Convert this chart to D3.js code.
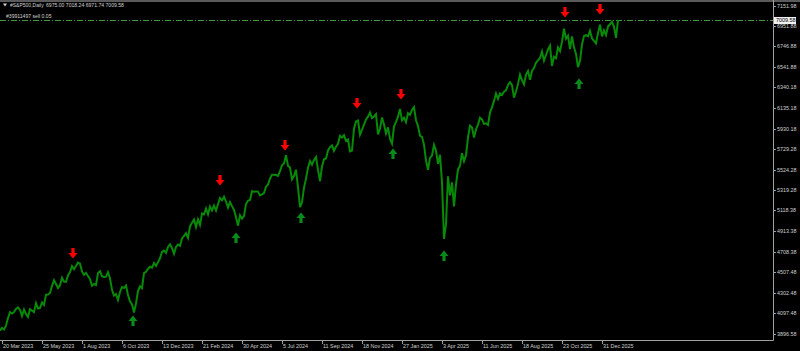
<!DOCTYPE html>
<html><head><meta charset="utf-8">
<script src="https://cdn.jsdelivr.net/npm/d3@7"></script>
<style>
html,body{margin:0;padding:0;background:#000;}
svg{display:block;}
text{font-family:"Liberation Sans",Arial,sans-serif;}
</style></head>
<body>
<script>
// ---- data ----
const symbolTitle = "#S&P500,Daily";
const ohlcText = "6975.00 7018.24 6971.74 7009.58";
const orderText = "#39911497 sell 0.05";
const orderPrice = 7009.58;
const lastPrice = 7009.58;

const closes = [
3925,3952,3937,3975,4050,4109,4095,4110,4140,4155,4130,4071,4135,4090,4062,4138,4124,4109,4198,4145,4151,
4205,4180,4282,4283,4299,4369,4425,4388,4348,4376,4450,4411,4409,4472,4505,4565,4536,4567,4600,4589,
4513,4478,4499,4468,4437,4370,4388,4376,4497,4515,4465,4457,4461,4505,4443,4330,4273,4288,4229,4309,
4358,4349,4373,4278,4217,4186,4105,4194,4318,4365,4347,4495,4508,4538,4559,4550,4595,4567,4604,4643,
4707,4719,4698,4755,4781,4743,4688,4756,4780,4766,4840,4865,4891,4846,4959,4995,5027,4953,5030,4975,
5087,5078,5137,5079,5157,5118,5165,5117,5179,5241,5218,5254,5205,5147,5202,5161,5123,5051,4967,5070,
5036,5064,5181,5214,5221,5308,5303,5307,5305,5267,5278,5291,5352,5375,5433,5473,5473,5469,5460,5509,
5567,5585,5667,5560,5544,5427,5459,5522,5346,5150,5199,5344,5434,5543,5608,5571,5617,5648,5520,5408,
5554,5626,5634,5713,5745,5762,5709,5751,5780,5859,5842,5864,5809,5823,5705,5712,5929,6001,6010,5870,
5917,5969,6021,6049,6090,6034,6051,6074,5872,5931,6040,5971,5882,5942,5827,5780,5950,5997,6049,6125,
6012,6039,5994,6083,6066,6115,6144,6013,5955,5861,5849,5770,5614,5522,5639,5663,5768,5712,5581,5671,
5396,4835,4982,5457,5268,5397,5158,5376,5525,5561,5686,5607,5664,5844,5958,5940,5842,5922,5970,6038,
6022,5977,5982,5967,6092,6141,6205,6279,6226,6280,6264,6297,6309,6363,6390,6362,6238,6299,6374,6466,
6411,6370,6467,6502,6416,6502,6532,6584,6607,6631,6694,6605,6661,6716,6753,6553,6644,6629,6735,6699,
6792,6921,6822,6852,6720,6846,6737,6672,6540,6603,6766,6849,6857,6846,6901,6827,6800,6775,6878,6962,
6845,6905,6858,6944,6966,6990,6940,6830,7009.58
];

const yTickValues = [7151.98,6951.88,6746.88,6541.88,6340.18,6135.18,5930.18,5729.28,5524.28,5319.28,5118.38,4913.38,4708.38,4507.48,4302.48,4097.48,3896.58];
const yTickLabels = ["7151.98","6951.88","6746.88","6541.88","6340.18","6135.18","5930.18","5729.28","5524.28","5319.28","5118.38","4913.38","4708.38","4507.48","4302.48","4097.48","3896.58"];

const xTickLabels = ["20 Mar 2023","25 May 2023","1 Aug 2023","6 Oct 2023","13 Dec 2023","21 Feb 2024","30 Apr 2024","5 Jul 2024","11 Sep 2024","18 Nov 2024","27 Jan 2025","3 Apr 2025","11 Jun 2025","18 Aug 2025","23 Oct 2025","31 Dec 2025"];
const xTickIndex = [0.85,20.85,40.85,60.85,80.85,100.85,120.85,140.85,160.85,180.85,200.85,220.85,240.85,260.85,280.85,300.85];

const downArrowIndex = [36.5,110,142.5,178.5,200.5,282.5,300];
const downArrowPrice = [4690,5415,5762,6179,6268,7083,7112];
const upArrowIndex = [66.5,118,150.5,196.5,222,289.5];
const upArrowPrice = [4026,4849,5048,5683,4671,6378];

// ---- layout ----
const W = 800, H = 351;
const plotL = 0, plotR = 773, plotT = 2, plotB = 340;
const FS = 5.4;

const svg = d3.select("body").append("svg").attr("width", W).attr("height", H);
svg.append("rect").attr("width", W).attr("height", H).attr("fill", "#000");

const x = d3.scaleLinear().domain([0, closes.length - 1]).range([0, 618]);
const y = d3.scaleLinear().domain([3896.58, 7151.98]).range([333.5, 5.5]);

svg.append("clipPath").attr("id", "plot").append("rect")
  .attr("x", plotL).attr("y", plotT).attr("width", plotR - plotL).attr("height", plotB - plotT);

// top border
svg.append("rect").attr("x", 0).attr("y", 0).attr("width", W).attr("height", 2).attr("fill", "#5a5a5a");

const g = svg.append("g").attr("clip-path", "url(#plot)");

// order line
const oy = Math.round(y(orderPrice)) + 0.5;
g.append("line").attr("x1", plotL).attr("x2", plotR)
  .attr("y1", oy).attr("y2", oy)
  .attr("stroke", "#3f9a3f").attr("stroke-width", 1).attr("stroke-dasharray", "6,2,1,2");

// price line
g.append("path").datum(closes)
  .attr("fill", "none").attr("stroke", "#078a07").attr("stroke-width", 2).attr("stroke-linejoin", "miter")
  .attr("d", d3.line().x((d, i) => x(i)).y(d => y(d)));

// arrows
function downArrow(cx, cy) {
  return `M${cx-1.6},${cy-5.5} L${cx+1.6},${cy-5.5} L${cx+1.6},${cy-0.5} L${cx+4.5},${cy-0.5} L${cx},${cy+5} L${cx-4.5},${cy-0.5} L${cx-1.6},${cy-0.5} Z`;
}
function upArrow(cx, cy) {
  return `M${cx-1.6},${cy+5.5} L${cx+1.6},${cy+5.5} L${cx+1.6},${cy+0.5} L${cx+4.5},${cy+0.5} L${cx},${cy-5} L${cx-4.5},${cy+0.5} L${cx-1.6},${cy+0.5} Z`;
}
g.selectAll("path.dn").data(downArrowIndex).join("path").attr("class", "dn")
  .attr("d", (d, k) => downArrow(x(d), y(downArrowPrice[k]))).attr("fill", "#ff0000");
g.selectAll("path.up").data(upArrowIndex).join("path").attr("class", "up")
  .attr("d", (d, k) => upArrow(x(d), y(upArrowPrice[k]))).attr("fill", "#0a8a1a");

// axes lines
svg.append("line").attr("x1", plotR + 0.5).attr("x2", plotR + 0.5).attr("y1", 0).attr("y2", plotB + 0.5)
  .attr("stroke", "#a0a0a0");
svg.append("line").attr("x1", 0).attr("x2", plotR + 0.5).attr("y1", plotB + 0.5).attr("y2", plotB + 0.5)
  .attr("stroke", "#a0a0a0");

// y ticks
const yt = svg.append("g");
yTickValues.forEach((v, k) => {
  const yy = Math.round(y(v)) + 0.5;
  yt.append("line").attr("x1", plotR).attr("x2", plotR + 3).attr("y1", yy).attr("y2", yy).attr("stroke", "#a0a0a0");
  yt.append("text").attr("x", plotR + 4).attr("y", yy).attr("dy", "0.35em")
    .attr("font-size", FS).attr("fill", "#d0d0d0").text(yTickLabels[k]);
});

// last price label
const ly = Math.round(y(lastPrice)) + 0.5;
svg.append("rect").attr("x", plotR + 1).attr("y", ly - 3.5).attr("width", 22).attr("height", 7).attr("fill", "#f0f0f0");
svg.append("text").attr("x", plotR + 3).attr("y", ly).attr("dy", "0.35em")
  .attr("font-size", FS).attr("fill", "#000").text(lastPrice.toFixed(2));

// x ticks
const xt = svg.append("g");
xTickIndex.forEach((v, k) => {
  const xx = Math.round(x(v)) + 0.5;
  xt.append("line").attr("x1", xx).attr("x2", xx).attr("y1", plotB).attr("y2", plotB + 4).attr("stroke", "#a0a0a0");
  xt.append("text").attr("x", xx + 0.5).attr("y", plotB + 7.5)
    .attr("font-size", FS).attr("fill", "#d0d0d0").text(xTickLabels[k]);
});

// header
svg.append("path").attr("d", "M3,3.5 L7,3.5 L5,6.5 Z").attr("fill", "#d0d0d0");
svg.append("text").attr("x", 10).attr("y", 7.3).attr("font-size", 5).attr("fill", "#d0d0d0").text(symbolTitle);
svg.append("text").attr("x", 46).attr("y", 7.3).attr("font-size", 5.1).attr("fill", "#d0d0d0").text(ohlcText);
svg.append("text").attr("x", 6).attr("y", 18.4).attr("font-size", 5.1).attr("fill", "#d0d0d0").text(orderText);
</script>
</body></html>
